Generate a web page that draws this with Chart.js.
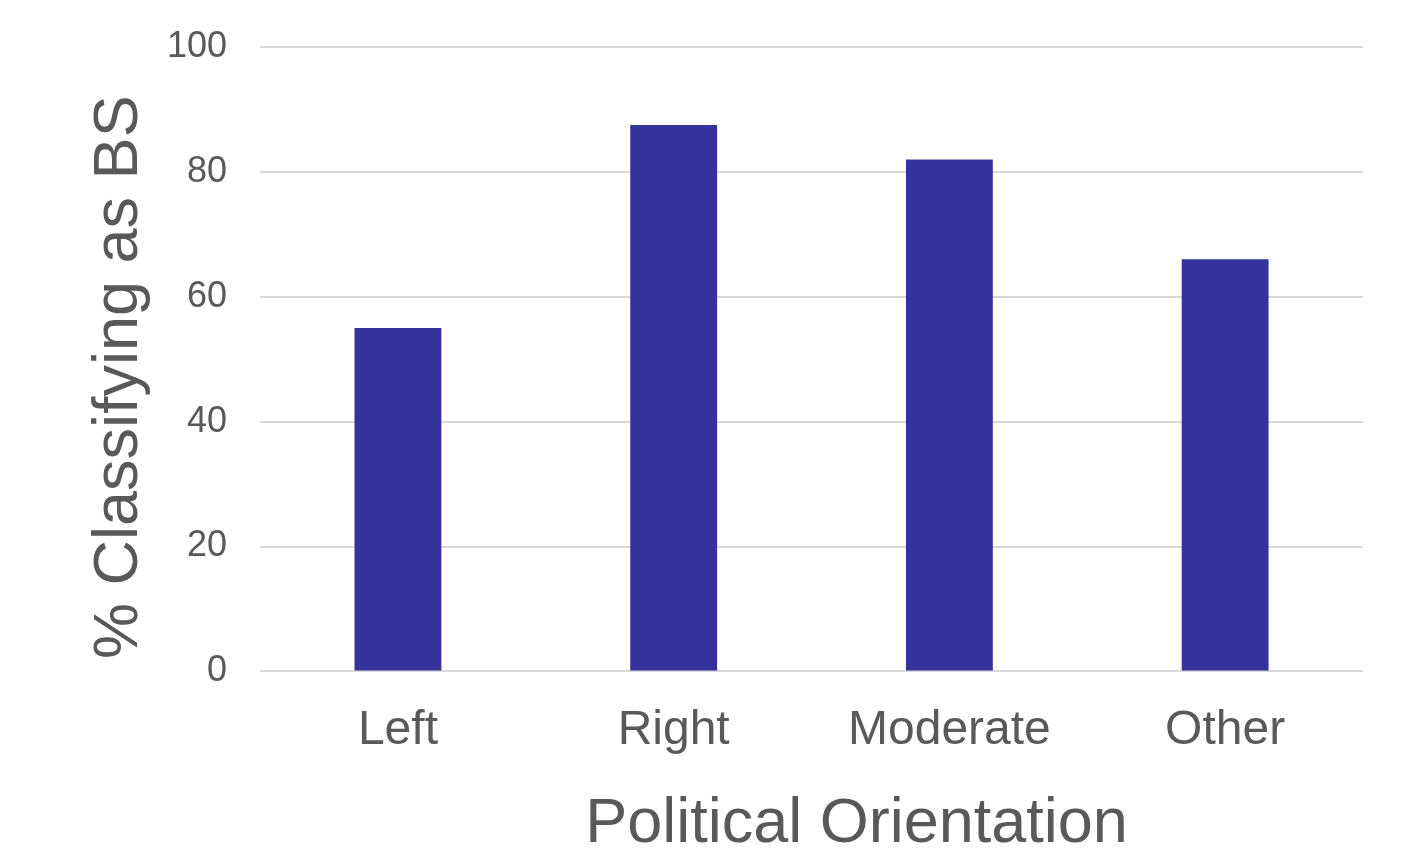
<!DOCTYPE html>
<html>
<head>
<meta charset="utf-8">
<script src="https://cdn.jsdelivr.net/npm/chart.js@4"></script>
<style>
  html, body { margin: 0; padding: 0; background: #ffffff; }
  #wrap { width: 1403px; height: 851px; }
</style>
</head>
<body>
<div id="wrap"><canvas id="barChart"></canvas></div>
<script>
const categories = ["Left", "Right", "Moderate", "Other"];
const percentBS = [55, 87.5, 82, 66];
const yTicks = [0, 20, 40, 60, 80, 100];
const xTitle = "Political Orientation";
const yTitle = "% Classifying as BS";

const textColor = "#595959";
const fontFamily = "Arial, 'Liberation Sans', sans-serif";

// axis titles sit a bit off-centre in the original, so draw them ourselves
const axisTitles = {
  id: "axisTitles",
  afterDraw(chart) {
    const ctx = chart.ctx;
    const area = chart.chartArea;
    ctx.save();
    ctx.fillStyle = textColor;
    ctx.font = "63px " + fontFamily;
    ctx.textAlign = "center";
    ctx.textBaseline = "alphabetic";
    ctx.fillText(xTitle, (area.left + area.right) / 2 + 45, chart.height - 9);

    ctx.translate(137, (area.top + area.bottom) / 2 + 18);
    ctx.rotate(-Math.PI / 2);
    ctx.fillText(yTitle, 0, 0);
    ctx.restore();
  },
};

new Chart(document.querySelector("#barChart").getContext("2d"), {
  type: "bar",
  data: {
    labels: categories,
    datasets: [{
      label: yTitle,
      data: percentBS,
      backgroundColor: "#333399",
      borderWidth: 0,
      categoryPercentage: 1,
      barPercentage: 0.315,
    }],
  },
  plugins: [axisTitles],
  options: {
    responsive: true,
    maintainAspectRatio: false,
    animation: false,
    layout: {
      padding: { top: 0, right: 40, bottom: 60, left: 134 },
    },
    plugins: {
      legend: { display: false },
      tooltip: { enabled: false },
    },
    scales: {
      x: {
        grid: { display: false, drawTicks: false },
        border: { display: false },
        ticks: {
          color: textColor,
          padding: 31,
          font: { family: fontFamily, size: 48 },
        },
      },
      y: {
        min: 0,
        max: 100,
        afterBuildTicks: (axis) => {
          axis.ticks = yTicks.map((v) => ({ value: v }));
        },
        afterFit: (axis) => {
          // tick padding would otherwise push the plot top down
          axis.paddingTop = 47;
        },
        grid: {
          color: "#d9d9d9",
          lineWidth: 2,
          drawTicks: false,
        },
        border: { display: false },
        ticks: {
          color: textColor,
          padding: 33,
          font: { family: fontFamily, size: 36 },
        },
      },
    },
  },
});
</script>
</body>
</html>
